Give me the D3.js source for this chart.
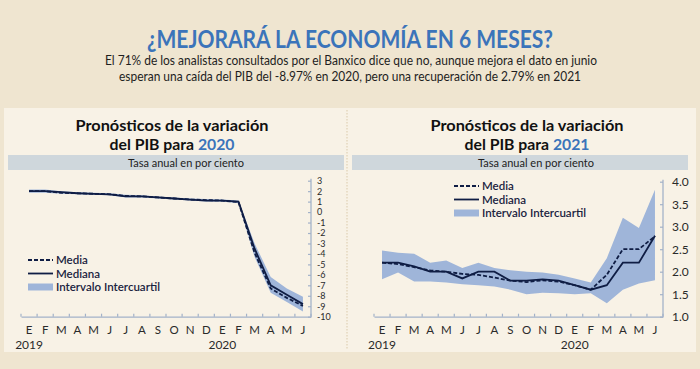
<!DOCTYPE html>
<html><head><meta charset="utf-8">
<script src="https://cdn.jsdelivr.net/npm/d3@7"></script>
<style>body{margin:0;background:#efe5d0}svg{display:block}</style>
</head><body>
<svg id="c" width="700" height="369"></svg>
<script>
// ---------- DATA ----------
const periods = ["2019-01","2019-02","2019-03","2019-04","2019-05","2019-06","2019-07","2019-08","2019-09","2019-10","2019-11","2019-12","2020-01","2020-02","2020-03","2020-04","2020-05","2020-06"];
const monthLabels = ["E","F","M","A","M","J","J","A","S","O","N","D","E","F","M","A","M","J"];
const yearLabels = [{period:"2019-01", label:"2019"},{period:"2020-01", label:"2020"}];

// Pronósticos 2020
const media2020   = [2.0,2.0,1.85,1.8,1.75,1.7,1.55,1.5,1.4,1.3,1.2,1.15,1.1,0.95,-3.9,-7.3,-8.2,-8.97];
const mediana2020 = [2.0,2.0,1.9,1.8,1.75,1.7,1.5,1.5,1.4,1.3,1.2,1.1,1.1,1.0,-3.5,-7.0,-7.9,-8.8];
const q3_2020     = [2.15,2.15,2.0,1.9,1.85,1.8,1.65,1.6,1.5,1.4,1.3,1.25,1.2,1.1,-3.0,-6.2,-7.3,-8.1];
const q1_2020     = [1.85,1.85,1.75,1.7,1.65,1.6,1.4,1.4,1.3,1.2,1.1,1.0,1.0,0.85,-4.3,-7.7,-8.6,-9.5];
const ticks2020   = [3,2,1,0,-1,-2,-3,-4,-5,-6,-7,-8,-9,-10];

// Pronósticos 2021
const media2021   = [2.2,2.17,2.1,2.03,2.0,1.95,1.93,1.87,1.8,1.77,1.81,1.78,1.7,1.6,1.93,2.5,2.5,2.79];
const mediana2021 = [2.2,2.2,2.12,2.0,2.0,1.85,2.0,2.0,1.8,1.8,1.83,1.8,1.7,1.6,1.7,2.2,2.2,2.8];
const q3_2021     = [2.47,2.42,2.4,2.2,2.25,2.08,2.2,2.08,2.03,2.0,1.98,1.93,1.85,1.76,2.3,3.2,2.97,3.82];
const q1_2021     = [1.83,1.98,1.78,1.78,1.76,1.72,1.7,1.67,1.6,1.5,1.53,1.52,1.5,1.52,1.3,1.6,1.74,1.81];
const ticks2021   = [1.0,1.5,2.0,2.5,3.0,3.5,4.0];

const legendLabels = ["Media","Mediana","Intervalo Intercuartil"];

// ---------- STYLE ----------
const C = {
  outer:"#efe5d0", panel:"#f8f2e6", blue:"#3b74ba", band:"#9fb5d9",
  line:"#0f1d44", axis:"#a3b2c9", gray:"#cfd7dc", text:"#2a2a2a"
};
const FONT = "Lato, 'Open Sans', sans-serif";

const svg = d3.select("#c");
svg.append("rect").attr("width",700).attr("height",369).attr("fill",C.outer);
svg.append("rect").attr("x",4).attr("y",108).attr("width",692).attr("height",244).attr("fill",C.panel);
svg.append("line").attr("x1",347).attr("x2",347).attr("y1",110).attr("y2",350)
  .attr("stroke","#e4d8bf").attr("stroke-width",1.5).attr("stroke-dasharray","1.5,1.5");

function fitText(sel, w){ sel.attr("textLength", w).attr("lengthAdjust","spacingAndGlyphs"); return sel; }

// header
fitText(svg.append("text").attr("x",350).attr("y",48).attr("text-anchor","middle")
  .attr("font-family",FONT).attr("font-weight",700).attr("font-size",25).attr("fill",C.blue)
  .text("¿MEJORARÁ LA ECONOMÍA EN 6 MESES?"), 406);
fitText(svg.append("text").attr("x",351).attr("y",65).attr("text-anchor","middle")
  .attr("font-family",FONT).attr("font-size",12.5).attr("fill","#1e1e1e")
  .text("El 71% de los analistas consultados por el Banxico dice que no, aunque mejora el dato en junio"), 492);
fitText(svg.append("text").attr("x",350).attr("y",81).attr("text-anchor","middle")
  .attr("font-family",FONT).attr("font-size",12.5).attr("fill","#1e1e1e")
  .text("esperan una caída del PIB del -8.97% en 2020, pero una recuperación de 2.79% en 2021"), 462);

function drawChart(cfg){
  const g = svg.append("g");
  // panel titles
  fitText(g.append("text").attr("x",cfg.titleX).attr("y",130.5).attr("text-anchor","middle")
    .attr("font-family",FONT).attr("font-weight",700).attr("font-size",16).attr("fill","#111")
    .text("Pronósticos de la variación"), 193);
  const t2 = g.append("text").attr("x",cfg.titleX).attr("y",150).attr("text-anchor","middle")
    .attr("font-family",FONT).attr("font-weight",700).attr("font-size",16).attr("fill","#111");
  t2.append("tspan").text("del PIB para ");
  t2.append("tspan").attr("fill",C.blue).text(cfg.year);
  fitText(t2,125);
  g.append("rect").attr("x",cfg.bandX).attr("y",155).attr("width",336).attr("height",15).attr("fill",C.gray);
  g.append("text").attr("x",cfg.subX).attr("y",167).attr("text-anchor","middle")
    .attr("font-family",FONT).attr("font-size",11).attr("fill","#222").text("Tasa anual en por ciento");

  const x = d3.scaleBand().domain(periods).range(cfg.xRange);
  const y = d3.scaleLinear().domain(cfg.yDomain).range([316.7, cfg.yTop]);
  const cx = p => x(p) + x.bandwidth()/2;

  // IQR band
  const area = d3.area().x((d,i)=>cx(periods[i])).y0((d,i)=>y(cfg.q1[i])).y1((d,i)=>y(cfg.q3[i]));
  g.append("path").datum(cfg.q1).attr("d",area).attr("fill",C.band);
  const line = arr => d3.line().x((d,i)=>cx(periods[i])).y(d=>y(d))(arr);
  g.append("path").attr("d",line(cfg.mediana)).attr("fill","none").attr("stroke",C.line).attr("stroke-width",1.8);
  g.append("path").attr("d",line(cfg.media)).attr("fill","none").attr("stroke",C.line).attr("stroke-width",1.8)
    .attr("stroke-dasharray","4,2");

  // y axis
  const ya = g.append("g").attr("transform",`translate(${cfg.xRange[1]},0)`)
    .call(d3.axisRight(y).tickValues(cfg.ticks).tickFormat(cfg.fmt).tickSizeInner(-3).tickSizeOuter(0).tickPadding(cfg.tickPad));
  ya.select(".domain").attr("stroke",C.axis).attr("stroke-width",1.3).attr("d",`M0,${y.range()[1]-2}V${y.range()[0]}`);
  ya.selectAll(".tick line").attr("stroke",C.axis).attr("stroke-width",1.2);
  ya.selectAll("text").attr("font-family",FONT).attr("font-size",cfg.tickFont).attr("fill",C.text);

  // x axis
  const xa = g.append("g").attr("transform","translate(0,316.7)")
    .call(d3.axisBottom(x).tickSize(0).tickPadding(9).tickFormat((d,i)=>monthLabels[i]));
  xa.select(".domain").attr("stroke",C.axis).attr("stroke-width",1.3);
  xa.selectAll("text").attr("font-family",FONT).attr("font-size",11.5).attr("fill",C.text);
  const bounds = periods.map(p=>x(p)).concat([x.range()[1]]);
  xa.selectAll("line.bt").data(bounds).join("line").attr("class","bt")
    .attr("x1",d=>d).attr("x2",d=>d).attr("y1",0).attr("y2",-3).attr("stroke",C.axis).attr("stroke-width",1.2);
  g.selectAll("text.yr").data(yearLabels).join("text").attr("class","yr")
    .attr("x",d=>cx(d.period)).attr("y",349).attr("text-anchor","middle")
    .attr("font-family",FONT).attr("font-size",12).attr("fill",C.text).text(d=>d.label);

  // legend
  const lg = g.append("g").attr("transform",`translate(${cfg.legX},${cfg.legY})`);
  lg.append("line").attr("x1",0).attr("x2",25).attr("y1",0).attr("y2",0).attr("stroke",C.line).attr("stroke-width",1.8).attr("stroke-dasharray","4,2");
  lg.append("line").attr("x1",0).attr("x2",25).attr("y1",13.5).attr("y2",13.5).attr("stroke",C.line).attr("stroke-width",1.8);
  lg.append("rect").attr("x",0).attr("y",23.5).attr("width",25).attr("height",7).attr("fill",C.band);
  lg.selectAll("text").data(legendLabels).join("text").attr("x",28).attr("y",(d,i)=>i*13.5+4)
    .attr("font-family",FONT).attr("font-weight",600).attr("font-size",11.5).attr("fill","#1a2340").text(d=>d);
}

drawChart({year:"2020", titleX:172, bandX:8, subX:186, xRange:[21,311], yDomain:[-10,3], yTop:180.7,
  ticks:ticks2020, fmt:d=>String(d), tickFont:9, tickPad:6,
  media:media2020, mediana:mediana2020, q1:q1_2020, q3:q3_2020, legX:28, legY:260});
drawChart({year:"2021", titleX:527, bandX:352, subX:536, xRange:[374,663], yDomain:[1,4], yTop:181.7,
  ticks:ticks2021, fmt:d3.format(".1f"), tickFont:12, tickPad:9,
  media:media2021, mediana:mediana2021, q1:q1_2021, q3:q3_2021, legX:454, legY:186});
</script>
</body></html>
